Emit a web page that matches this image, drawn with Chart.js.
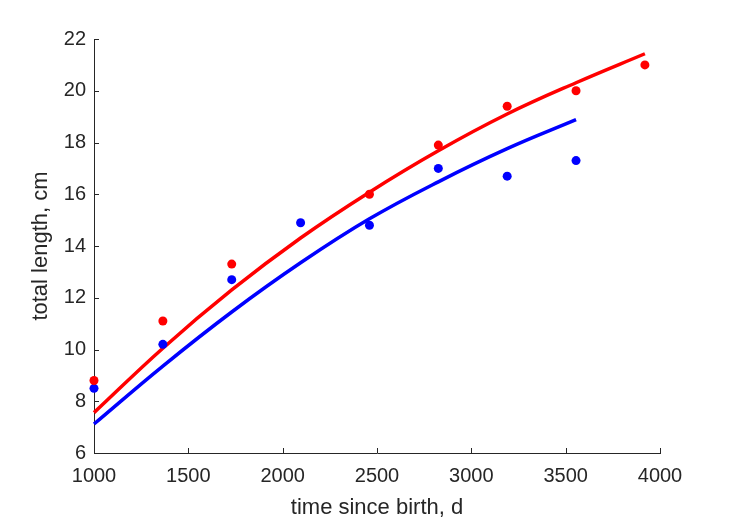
<!DOCTYPE html>
<html>
<head>
<meta charset="utf-8">
<script src="https://cdn.jsdelivr.net/npm/chart.js@4"></script>
<style>
  body { margin: 0; background: #fff; }
  canvas { display: block; }
</style>
</head>
<body>
<canvas id="growthChart" width="729" height="521"></canvas>
<script>
// sampling days (one year apart)
const days = [1000, 1365, 1730, 2095, 2460, 2825, 3190, 3555, 3920];

// observed lengths
const redObsDays = [1000, 1365, 1730, 2460, 2825, 3190, 3555, 3920];
const redObs = [8.8, 11.1, 13.3, 16.0, 17.9, 19.4, 20.0, 21.0];
const blueObsDays = [1000, 1365, 1730, 2095, 2460, 2825, 3190, 3555];
const blueObs = [8.5, 10.2, 12.7, 14.9, 14.8, 17.0, 16.7, 17.3];

// fitted curves
const redFitDays = days;
const redFit = [7.56, 10.05, 12.30, 14.31, 16.08, 17.68, 19.10, 20.31, 21.43];
const blueFitDays = days.slice(0, 8);
const blueFit = [7.12, 9.36, 11.45, 13.35, 15.05, 16.48, 17.76, 18.88];

const xTicks = [1000, 1500, 2000, 2500, 3000, 3500, 4000];
const yTicks = [6, 8, 10, 12, 14, 16, 18, 20, 22];

const axisColor = '#262626';

function pairs(xs, ys) {
  return xs.map((x, i) => ({ x: x, y: ys[i] }));
}

// MATLAB style ticks pointing into the plot
const inwardTicks = {
  id: 'inwardTicks',
  afterDraw(chart) {
    const ctx = chart.ctx;
    const xs = chart.scales.x;
    const ys = chart.scales.y;
    const len = 5;
    ctx.save();
    ctx.strokeStyle = axisColor;
    ctx.lineWidth = 1;
    ctx.beginPath();
    xTicks.forEach(v => {
      const px = Math.round(xs.getPixelForValue(v)) + 0.5;
      ctx.moveTo(px, ys.bottom);
      ctx.lineTo(px, ys.bottom - len);
    });
    yTicks.forEach(v => {
      const py = Math.round(ys.getPixelForValue(v)) + 0.5;
      ctx.moveTo(xs.left, py);
      ctx.lineTo(xs.left + len, py);
    });
    ctx.stroke();
    ctx.restore();
  }
};

const ctxGrowth = document.getElementById('growthChart');

new Chart(ctxGrowth, {
  type: 'scatter',
  data: {
    datasets: [
      {
        label: 'red observed',
        data: pairs(redObsDays, redObs),
        backgroundColor: '#ff0000',
        pointRadius: 4.5,
        pointBorderWidth: 0,
        clip: false,
        order: 0
      },
      {
        label: 'blue observed',
        data: pairs(blueObsDays, blueObs),
        backgroundColor: '#0000ff',
        pointRadius: 4.5,
        pointBorderWidth: 0,
        clip: false,
        order: 0
      },
      {
        label: 'red fit',
        data: pairs(redFitDays, redFit),
        showLine: true,
        borderColor: '#ff0000',
        borderWidth: 3.5,
        pointRadius: 0,
        tension: 0.4,
        clip: false,
        order: 1
      },
      {
        label: 'blue fit',
        data: pairs(blueFitDays, blueFit),
        showLine: true,
        borderColor: '#0000ff',
        borderWidth: 3.5,
        pointRadius: 0,
        tension: 0.4,
        clip: false,
        order: 1
      }
    ]
  },
  options: {
    responsive: false,
    animation: false,
    layout: {
      padding: { top: 39, right: 69, left: 0, bottom: 0 }
    },
    plugins: {
      legend: { display: false },
      tooltip: { enabled: false }
    },
    scales: {
      x: {
        type: 'linear',
        min: 1000,
        max: 4000,
        afterBuildTicks: (scale) => { scale.ticks = xTicks.map(v => ({ value: v })); },
        afterFit: (scale) => { scale.height = 68; },
        ticks: {
          color: axisColor,
          padding: 11,
          maxRotation: 0,
          callback: (v) => String(v),
          font: { family: 'Liberation Sans, Arial, sans-serif', size: 20 }
        },
        grid: { display: false, drawTicks: false },
        border: { display: true, color: axisColor, width: 1 },
        title: {
          display: true,
          text: 'time since birth, d',
          color: axisColor,
          padding: { top: 0, bottom: 0 },
          font: { family: 'Liberation Sans, Arial, sans-serif', size: 22 }
        }
      },
      y: {
        type: 'linear',
        min: 6,
        max: 22,
        afterBuildTicks: (scale) => { scale.ticks = yTicks.map(v => ({ value: v })); },
        afterFit: (scale) => { scale.width = 94; },
        ticks: {
          color: axisColor,
          padding: 8,
          callback: (v) => String(v),
          font: { family: 'Liberation Sans, Arial, sans-serif', size: 20 }
        },
        grid: { display: false, drawTicks: false },
        border: { display: true, color: axisColor, width: 1 },
        title: {
          display: true,
          text: 'total length, cm',
          color: axisColor,
          padding: { top: 28, bottom: 0 },
          font: { family: 'Liberation Sans, Arial, sans-serif', size: 22 }
        }
      }
    }
  },
  plugins: [inwardTicks]
});
</script>
</body>
</html>
